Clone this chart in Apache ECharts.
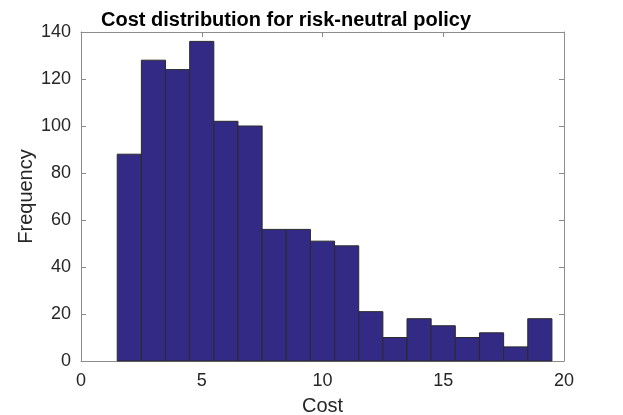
<!DOCTYPE html>
<html>
<head>
<meta charset="utf-8">
<script src="https://cdn.jsdelivr.net/npm/echarts@6/dist/echarts.min.js"></script>
<style>
html, body { margin: 0; padding: 0; background: #fff; }
#main { width: 623px; height: 415px; }
</style>
</head>
<body>
<div id="main"></div>
<script>
// bin edges (left) and counts
var binStart = [1.5, 2.5, 3.5, 4.5, 5.5, 6.5, 7.5, 8.5, 9.5, 10.5, 11.5, 12.5, 13.5, 14.5, 15.5, 16.5, 17.5, 18.5];
var binWidth = 1;
var counts = [88, 128, 124, 136, 102, 100, 56, 56, 51, 49, 21, 10, 18, 15, 10, 12, 6, 18];

var xTicks = [0, 5, 10, 15, 20];
var yTicks = [0, 20, 40, 60, 80, 100, 120, 140];

var myChart = echarts.init(document.getElementById('main'));

var barData = [];
for (var i = 0; i < counts.length; i++) {
    barData.push([binStart[i], binStart[i] + binWidth, counts[i]]);
}

var fontFam = 'Liberation Sans, Arial, sans-serif';
var axisCol = '#8c8c8c';
var textCol = '#262626';

function boxAxis(extra) {
    var a = {
        type: 'value',
        axisLine: { show: true, onZero: false, lineStyle: { color: axisCol, width: 1 } },
        axisTick: { show: true, inside: true, length: 5, lineStyle: { color: axisCol } },
        splitLine: { show: false }
    };
    for (var k in extra) a[k] = extra[k];
    return a;
}

option = {
    animation: false,
    title: {
        text: 'Cost distribution for risk-neutral policy',
        left: 96,
        top: 5,
        textStyle: { fontFamily: fontFam, fontSize: 20, fontWeight: 'bold', color: '#000' }
    },
    grid: { left: 81, right: 59, top: 32, bottom: 54, containLabel: false, outerBoundsMode: 'none' },
    xAxis: [
        boxAxis({
            min: xTicks[0], max: xTicks[xTicks.length - 1], interval: 5,
            name: 'Cost', nameLocation: 'middle', nameGap: 35, nameMoveOverlap: false,
            nameTextStyle: { fontFamily: fontFam, fontSize: 20, color: textCol },
            axisLabel: { fontFamily: fontFam, fontSize: 18, color: textCol, margin: 11 }
        }),
        boxAxis({
            position: 'top',
            min: xTicks[0], max: xTicks[xTicks.length - 1], interval: 5,
            axisLabel: { show: false }
        })
    ],
    yAxis: [
        boxAxis({
            min: yTicks[0], max: yTicks[yTicks.length - 1], interval: 20,
            name: 'Frequency', nameLocation: 'middle', nameGap: 45, nameMoveOverlap: false,
            nameTextStyle: { fontFamily: fontFam, fontSize: 20, color: textCol },
            axisLabel: { fontFamily: fontFam, fontSize: 18, color: textCol, margin: 10 }
        }),
        boxAxis({
            position: 'right',
            min: yTicks[0], max: yTicks[yTicks.length - 1], interval: 20,
            axisLabel: { show: false }
        })
    ],
    series: [
        {
            type: 'custom',
            xAxisIndex: 0,
            yAxisIndex: 0,
            data: barData,
            encode: { x: [0, 1], y: 2 },
            renderItem: function (params, api) {
                var p0 = api.coord([api.value(0), 0]);
                var p1 = api.coord([api.value(1), api.value(2)]);
                return {
                    type: 'rect',
                    shape: { x: p0[0], y: p1[1], width: p1[0] - p0[0], height: p0[1] - p1[1] },
                    style: { fill: '#332a86', stroke: '#2a2a2a', lineWidth: 1 }
                };
            }
        }
    ]
};

myChart.setOption(option);
</script>
</body>
</html>
